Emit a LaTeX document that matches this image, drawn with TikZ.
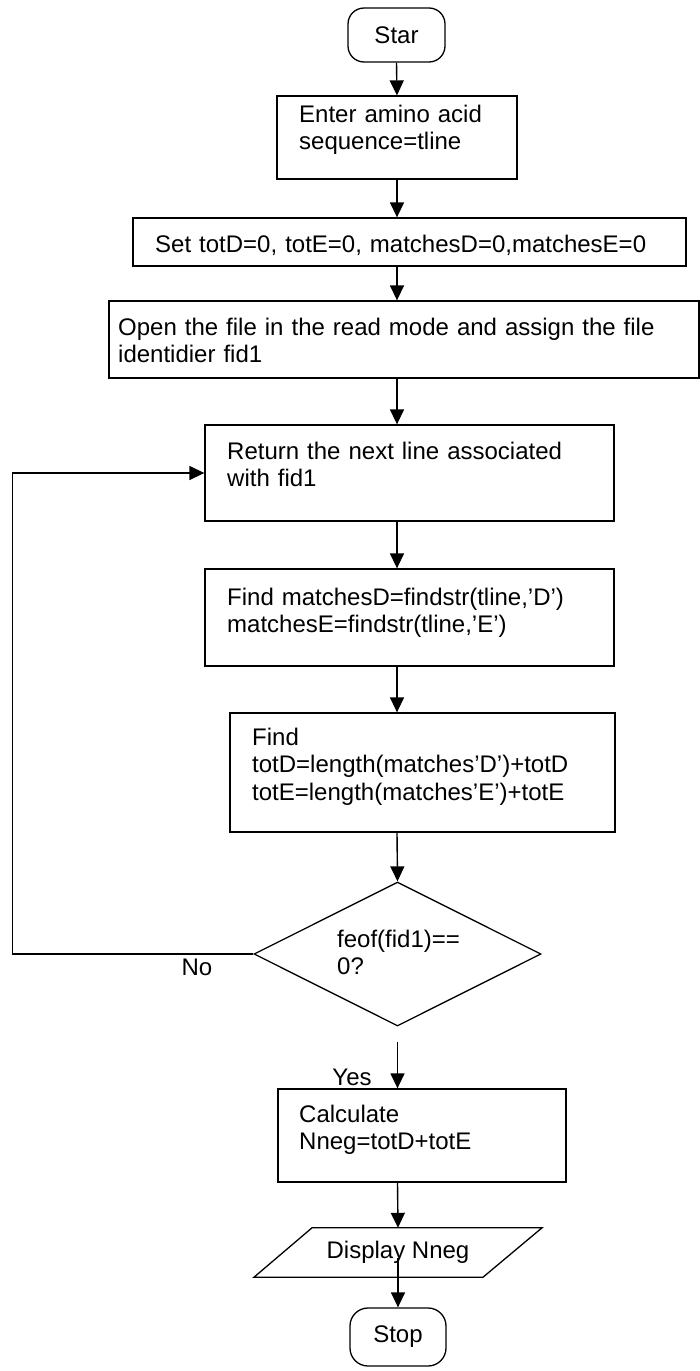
\documentclass[tikz,border=0pt]{standalone}
\usepackage{fontspec}
\setmainfont{Liberation Sans}[Ligatures=NoCommon]
\usetikzlibrary{arrows.meta,shapes.geometric}
\tikzset{
  box/.style={draw, line width=1.3pt, inner sep=0pt},
  term/.style={box, rounded corners=16pt},
  decision/.style={draw, diamond, line width=1.3pt, inner sep=0pt},
  txt/.style={anchor=base west, inner sep=0pt, text width=600pt, align=left},
  lbl/.style={anchor=base, inner sep=0pt},
  arr/.style={line width=1.4pt, -{Triangle[width=14pt,length=15pt]}},
  every node/.style={font=\fontsize{24}{27.6}\selectfont}
}
\begin{document}
\begin{tikzpicture}[x=1pt,y=-1pt]
\useasboundingbox (0,0) rectangle (700,1371);

% terminals
\node[term, minimum width=97pt, minimum height=54pt] (star) at (396.5,35) {Star};
\node[term, minimum width=96pt, minimum height=58pt, rounded corners=18pt] (stop) at (398,1337) {Stop};

% process boxes
\node[box, minimum width=240pt, minimum height=83pt] (enter) at (397,137.5) {};
\node[box, minimum width=553pt, minimum height=48pt] (set) at (409.5,242) {};
\node[box, minimum width=590pt, minimum height=77pt] (open) at (404,339.5) {};
\node[box, minimum width=409pt, minimum height=96pt] (ret) at (409.5,473) {};
\node[box, minimum width=409pt, minimum height=97pt] (match) at (409.5,617.5) {};
\node[box, minimum width=385pt, minimum height=119pt] (find) at (422.5,772.5) {};
\node[decision, minimum width=287pt, minimum height=144pt] (dec) at (397.5,954) {};
\node[box, minimum width=288pt, minimum height=93pt] (calc) at (422,1135.5) {};

% output (parallelogram)
\node[inner sep=0pt, minimum width=172pt, minimum height=49pt] (disp) at (398,1252.5) {Display Nneg};
\draw[line width=1.3pt] ([xshift=-144pt]disp.south) -- ([xshift=85pt]disp.south)
  -- ([xshift=144pt]disp.north) -- ([xshift=-86pt]disp.north) -- cycle;

% box texts
\node[txt] (t-enter) at (299,122) {Enter amino acid\\sequence=tline};
\node[txt] (t-set) at (155,252) {Set totD=0, totE=0, matchesD=0,matchesE=0};
\node[txt] (t-open) at (118,335) {Open the file in the read mode and assign the file\\identidier fid1};
\node[txt] (t-ret) at (227,459) {Return the next line associated\\with fid1};
\node[txt] (t-match) at (227,605) {Find matchesD=findstr(tline,’D’)\\matchesE=findstr(tline,’E’)};
\node[txt] (t-find) at (252,745) {Find\\totD=length(matches’D’)+totD\\totE=length(matches’E’)+totE};
\node[txt] (t-dec) at (337,947) {feof(fid1)==\\0?};
\node[txt] (t-calc) at (299,1122) {Calculate\\Nneg=totD+totE};

% branch labels
\node[lbl] (no) at (197,975) {No};
\node[lbl] (yes) at (352,1085) {Yes};

% flow
\draw[arr] (star.south) -- (enter.north);
\draw[arr] (enter.south) -- (enter.south |- set.north);
\draw[arr] (enter.south |- set.south) -- (enter.south |- open.north);
\draw[arr] (enter.south |- open.south) -- (enter.south |- ret.north);
\draw[arr] (enter.south |- ret.south) -- (enter.south |- match.north);
\draw[arr] (enter.south |- match.south) -- (enter.south |- find.north);
\draw[arr] (enter.south |- find.south) -- (dec.north);
\draw[arr] ([yshift=-15pt]dec.south) -- (dec.south |- calc.north);
\draw[arr] (dec.south |- calc.south) -- (disp.north);
\draw[arr] ([yshift=-5pt]disp.center) -- (stop.north);
\draw[arr] (dec.west) -- ++(-241,0) |- (ret.west);
\end{tikzpicture}
\end{document}
